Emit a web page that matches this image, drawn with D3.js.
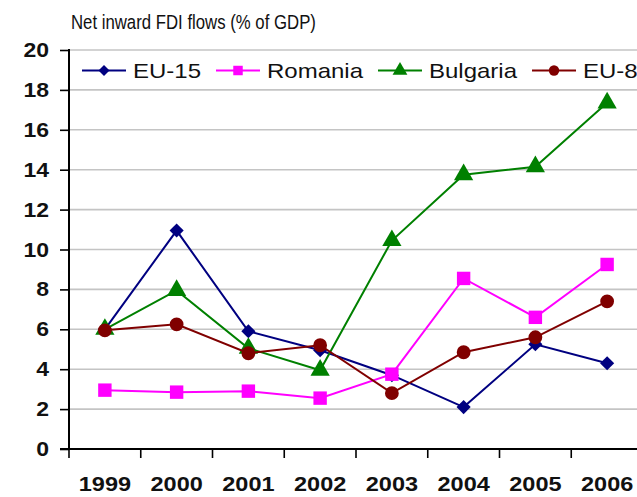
<!DOCTYPE html>
<html>
<head>
<meta charset="utf-8">
<script src="https://cdn.jsdelivr.net/npm/d3@7/dist/d3.min.js"></script>
<style>
  html, body { margin: 0; padding: 0; background: #fff; }
  svg { display: block; }
  text { font-family: "Liberation Sans", Arial, sans-serif; fill: #111; }
</style>
</head>
<body>
<svg id="chart" width="637" height="497"></svg>
<script>
const years = ["1999", "2000", "2001", "2002", "2003", "2004", "2005", "2006"];
const seriesNames = ["EU-15", "Romania", "Bulgaria", "EU-8"];
const eu15 = [6.0, 10.95, 5.9, 4.95, 3.7, 2.1, 5.25, 4.3];
const romania = [2.95, 2.85, 2.9, 2.55, 3.75, 8.55, 6.6, 9.25];
const bulgaria = [6.0, 7.95, 5.05, 3.95, 10.45, 13.75, 14.15, 17.35];
const eu8 = [5.95, 6.25, 4.8, 5.2, 2.8, 4.85, 5.6, 7.4];
const yTicks = [0, 2, 4, 6, 8, 10, 12, 14, 16, 18, 20];
const titleText = "Net inward FDI flows (% of GDP)";

const seriesValues = [eu15, romania, bulgaria, eu8];
const colors = ["#000080", "#ff00ff", "#008000", "#800000"];
const symbols = [d3.symbolSquare, d3.symbolSquare, d3.symbolTriangle, d3.symbolCircle];
const symRot = [45, 0, 0, 0];
const symSize = [100, 180, 160, 150];
const legSymSize = [60, 90, 95, 85];

const svg = d3.select("#chart");
const pLeft = 69, pTop = 50, pBottom = 449, pRight = 643;

const x = d3.scaleBand().domain(years).range([pLeft, pRight]).paddingInner(0).paddingOuter(0);
const y = d3.scaleLinear().domain([0, 20]).range([pBottom, pTop]);

function stretchedText(g, str, tx, ty, opts) {
  const t = g.append("text")
    .attr("transform", `translate(${tx},${ty}) scale(${opts.sx},1)`)
    .attr("text-anchor", opts.anchor || "start")
    .style("font-size", opts.size + "px")
    .style("font-weight", opts.weight || "normal")
    .text(str);
  if (opts.ls != null) t.style("letter-spacing", opts.ls + "px");
  return t;
}

// gridlines
svg.append("g").selectAll("line").data(yTicks.filter(d => d > 0)).join("line")
  .attr("x1", pLeft).attr("x2", 637)
  .attr("y1", d => y(d)).attr("y2", d => y(d))
  .attr("stroke", "#c4c4c4").attr("stroke-width", 1.6);

// y axis
const yAxisG = svg.append("g").attr("transform", `translate(${pLeft},0)`)
  .call(d3.axisLeft(y).tickValues(yTicks).tickSize(9).tickFormat(""));
yAxisG.select(".domain").remove();
yAxisG.selectAll(".tick line").attr("stroke", "#000").attr("stroke-width", 1.6);
svg.append("line").attr("x1", pLeft).attr("x2", pLeft).attr("y1", pTop - 1).attr("y2", pBottom + 1)
  .attr("stroke", "#000").attr("stroke-width", 2);
const yl = svg.append("g");
yTicks.forEach(v => {
  stretchedText(yl, String(v), 49, y(v) + 7, {sx: 1.15, size: 20, weight: "bold", anchor: "end"});
});

// x axis
const boundaries = years.map(d => x(d)).concat([pRight]);
svg.append("g").selectAll("line").data(boundaries).join("line")
  .attr("x1", d => d).attr("x2", d => d).attr("y1", pBottom).attr("y2", pBottom + 9)
  .attr("stroke", "#000").attr("stroke-width", 1.6);
svg.append("line").attr("x1", pLeft - 9).attr("x2", 637).attr("y1", pBottom).attr("y2", pBottom)
  .attr("stroke", "#000").attr("stroke-width", 2);
const xl = svg.append("g");
years.forEach(yr => {
  stretchedText(xl, yr, x(yr) + x.bandwidth() / 2, 491, {sx: 1.12, size: 21, weight: "bold", anchor: "middle"});
});

// series
const line = d3.line().x((d, i) => x(years[i]) + x.bandwidth() / 2).y(d => y(d));
seriesValues.forEach((vals, s) => {
  const g = svg.append("g");
  g.append("path").datum(vals).attr("d", line)
    .attr("fill", "none").attr("stroke", colors[s]).attr("stroke-width", 2);
  g.selectAll("path.m").data(vals).join("path").attr("class", "m")
    .attr("d", d3.symbol().type(symbols[s]).size(symSize[s]))
    .attr("transform", (d, i) => `translate(${x(years[i]) + x.bandwidth() / 2},${y(d)}) rotate(${symRot[s]})`)
    .attr("fill", colors[s]);
});

// legend
const lg = svg.append("g");
let lx = 82;
const ly = 70.5;
seriesNames.forEach((name, s) => {
  lg.append("line").attr("x1", lx).attr("x2", lx + 44).attr("y1", ly).attr("y2", ly)
    .attr("stroke", colors[s]).attr("stroke-width", 2);
  lg.append("path").attr("d", d3.symbol().type(symbols[s]).size(legSymSize[s]))
    .attr("transform", `translate(${lx + 22},${ly}) rotate(${symRot[s]})`).attr("fill", colors[s]);
  const t = stretchedText(lg, name, lx + 51, 77.5, {sx: 1.2, size: 20});
  const w = t.node().getComputedTextLength() * 1.2;
  lx = lx + 51 + w + 15;
});

// title
stretchedText(svg, titleText, 71, 29, {sx: 0.86, size: 19.5});
</script>
</body>
</html>
